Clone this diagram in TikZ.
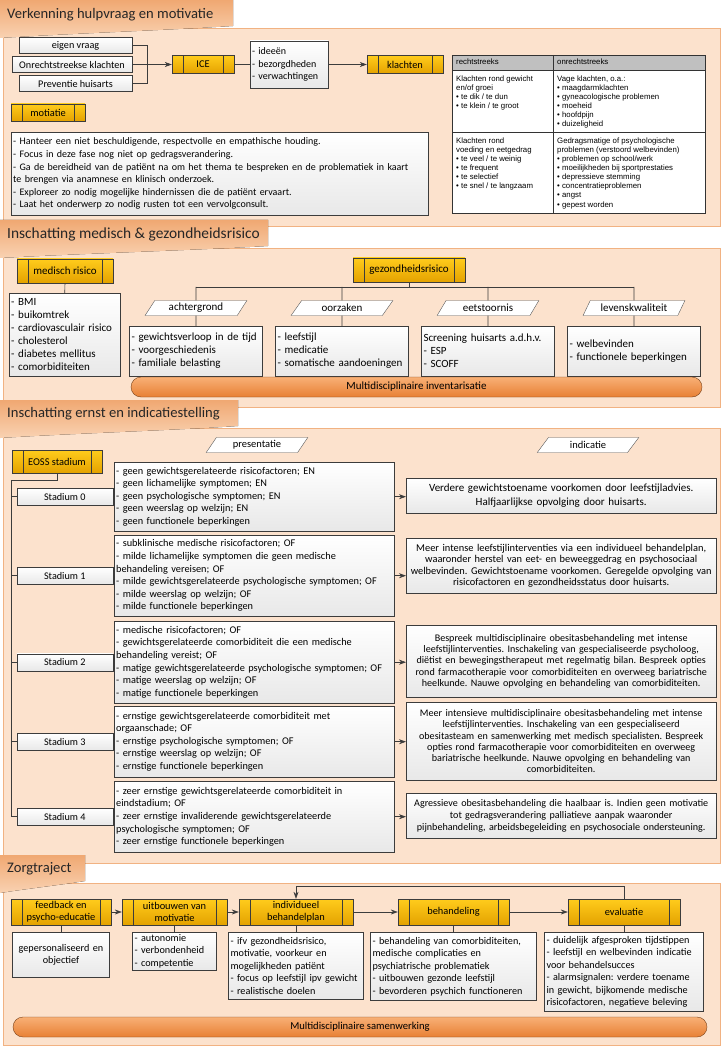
\documentclass[tikz,border=0pt]{standalone}
\usepackage{fontspec}
\setmainfont{Carlito}
\newfontfamily\tablefont{Liberation Sans}
\usetikzlibrary{arrows.meta, positioning, shapes.geometric, shapes.misc}

\definecolor{panelfill}{RGB}{252,226,205}
\definecolor{panelline}{RGB}{241,178,130}
\definecolor{tabtop}{RGB}{240,168,114}
\definecolor{tabbottom}{RGB}{249,210,178}
\definecolor{goldtop}{RGB}{255,204,28}
\definecolor{goldbottom}{RGB}{228,162,0}
\definecolor{edge}{RGB}{60,60,60}
\definecolor{bartop}{RGB}{248,176,118}
\definecolor{barbottom}{RGB}{232,128,52}
\definecolor{baredge}{RGB}{120,64,24}
\definecolor{tablehead}{RGB}{192,192,192}

\begin{document}
\frenchspacing
\begin{tikzpicture}[
    x=1pt, y=-1pt, % one unit per pixel, y grows downwards
    >={Stealth[length=7pt, width=5pt]}, % arrow tips of the connectors
    panel/.style={draw=panelline, fill=panelfill, line width=0.8pt}, % section background
    titletab/.style={top color=tabtop, bottom color=tabbottom}, % section title tab
    tabtitle/.style={anchor=west, inner sep=0pt, text=black!85, font=\fontsize{14.6}{17}\selectfont}, % section title
    proc/.style={draw=edge, top color=goldtop, bottom color=goldbottom, align=center, inner sep=1pt,
        font=\fontsize{10.4}{12}\selectfont,
        path picture={
            \draw[edge] ([xshift=11pt]path picture bounding box.north west) -- ([xshift=11pt]path picture bounding box.south west);
            \draw[edge] ([xshift=-11pt]path picture bounding box.north east) -- ([xshift=-11pt]path picture bounding box.south east);
        }}, % yellow boxes with side bars
    card/.style={draw=edge, top color=white, bottom color=black!9, inner sep=2pt, align=left,
        font=\fontsize{10}{12.6}\selectfont}, % white text boxes
    stage/.style={draw=edge, top color=white, bottom color=black!9, minimum width=96pt, minimum height=17pt,
        inner sep=1pt, font=\fontsize{10.2}{12}\selectfont}, % small white label boxes
    headtag/.style={trapezium, trapezium left angle=60, trapezium right angle=120, trapezium stretches=true,
        draw=black!65, fill=white, minimum width=102pt, minimum height=15pt, inner sep=1pt,
        font=\fontsize{10.5}{12}\selectfont}, % slanted column headers
    bar/.style={rounded rectangle, draw=baredge, top color=bartop, bottom color=barbottom, minimum height=20pt,
        inner sep=1pt, font=\fontsize{10.6}{12}\selectfont}, % multidisciplinary bars
    link/.style={draw=edge, line width=0.6pt}, % connectors
    cell/.style={anchor=north west, inner sep=0pt, align=left, font=\tablefont\fontsize{7.8}{9.1}\selectfont}, % table text
    advice/.style={card, anchor=north west, minimum width=310pt, text width=308pt, inner sep=1pt, align=center} % indication boxes
]
    \useasboundingbox (0,0) rectangle (727,1048);

    % Verkenning hulpvraag en motivatie
    \draw[panel] (3,28) rectangle (720,226);
    \fill[titletab] (0,0) -- (233,0) -- (233,26) .. controls (170,30) and (60,34) .. (0,38) -- cycle;
    \node[tabtitle] (title1) at (7,15) {Verkenning hulpvraag en motivatie};

    \node[stage, minimum width=113pt, minimum height=16pt] (eigen) at (75.5,45.5) {eigen vraag};
    \node[stage, minimum width=120pt, minimum height=16pt] (onrecht) at (72,64.5) {Onrechtstreekse klachten};
    \node[stage, minimum width=113pt, minimum height=16pt] (prev) at (75.5,83.5) {Preventie huisarts};
    \coordinate (join) at (147,64.5);
    \node[proc, minimum width=62pt, minimum height=18pt] (ice) at (203,64.5) {ICE};
    \node[card, minimum width=78pt, minimum height=47pt, text width=74pt] (icelist) at (289,64.5) {- ideeën\\- bezorgdheden\\- verwachtingen};
    \node[proc, minimum width=76pt, minimum height=18pt] (klachten) at (405,64.5) {klachten};
    \draw[link] (eigen.east) -| (join);
    \draw[link] (prev.east) -| (join);
    \draw[link, ->] (onrecht.east) -- (ice.west);
    \draw[link] (ice.east) -- (icelist.west);
    \draw[link, ->] (icelist.east) -- (klachten.west);

    \node[proc, minimum width=74pt, minimum height=17pt] (motiatie) at (48,112.5) {motiatie};
    \node[card, anchor=north west, minimum width=417pt, minimum height=83pt, text width=413pt] (houding) at (11,132)
        {- Hanteer een niet beschuldigende, respectvolle en empathische houding.\\- Focus in deze fase nog niet op gedragsverandering.\\- Ga de bereidheid van de patiënt na om het thema te bespreken en de problematiek in kaart\\te brengen via anamnese en klinisch onderzoek.\\- Exploreer zo nodig mogelijke hindernissen die de patiënt ervaart.\\- Laat het onderwerp zo nodig rusten tot een vervolgconsult.};

    % tabel rechtstreeks / onrechtstreeks
    \fill[white] (452,55) rectangle (705,213);
    \fill[tablehead] (452,55) rectangle (705,70);
    \draw[black!80, line width=0.6pt] (452,55) rectangle (705,213) (452,70) -- (705,70) (452,132) -- (705,132) (553,55) -- (553,213);
    \node[cell] (headleft) at (456,58.5) {rechtstreeks};
    \node[cell] (headright) at (557,58.5) {onrechtstreeks};
    \node[cell] (weightcell) at (456,75.5) {Klachten rond gewicht\\en/of groei\\• te dik / te dun\\• te klein / te groot};
    \node[cell] (vaguecell) at (557,75.5) {Vage klachten, o.a.:\\• maagdarmklachten\\• gyneacologische problemen\\• moeheid\\• hoofdpijn\\• duizeligheid};
    \node[cell] (foodcell) at (456,137.5) {Klachten rond\\voeding en eetgedrag\\• te veel / te weinig\\• te frequent\\• te selectief\\• te snel / te langzaam};
    \node[cell] (behavecell) at (557,137.5) {Gedragsmatige of psychologische\\problemen (verstoord welbevinden)\\• problemen op school/werk\\• moeilijkheden bij sportprestaties\\• depressieve stemming\\• concentratieproblemen\\• angst\\• gepest worden};

    % Inschatting medisch & gezondheidsrisico
    \draw[panel] (3,248) rectangle (720,407);
    \fill[titletab] (0,220) -- (268,220) -- (268,246) .. controls (200,250) and (70,254) .. (0,258) -- cycle;
    \node[tabtitle, font=\fontsize{15.4}{17}\selectfont] (title2) at (7,234) {Inschatting medisch \& gezondheidsrisico};

    \node[proc, minimum width=96pt, minimum height=24pt, font=\fontsize{11}{12}\selectfont] (medrisk) at (65,271) {medisch risico};
    \node[card, anchor=north west, minimum width=111pt, minimum height=83pt, text width=107pt, font=\fontsize{11}{13}\selectfont] (medlist) at (9,293)
        {- BMI\\- buikomtrek\\- cardiovasculair risico\\- cholesterol\\- diabetes mellitus\\- comorbiditeiten};
    \draw[link] (medrisk.south) -- (medlist.north);

    \node[proc, minimum width=112pt, minimum height=24pt, font=\fontsize{11}{12}\selectfont] (healthrisk) at (409,270) {gezondheidsrisico};
    \coordinate (fork) at (409,287);
    \node[headtag, font=\fontsize{11}{12}\selectfont] (bg) at (196,308) {achtergrond};
    \node[headtag, font=\fontsize{11}{12}\selectfont] (cause) at (342,308) {oorzaken};
    \node[headtag, font=\fontsize{11}{12}\selectfont] (eat) at (488,308) {eetstoornis};
    \node[headtag, font=\fontsize{11}{12}\selectfont] (life) at (634,308) {levenskwaliteit};
    \node[card, minimum width=133pt, minimum height=50pt, text width=129pt, font=\fontsize{11}{13}\selectfont] (bglist) at (196,351)
        {- gewichtsverloop in de tijd\\- voorgeschiedenis\\- familiale belasting};
    \node[card, minimum width=133pt, minimum height=50pt, text width=129pt, font=\fontsize{11}{13}\selectfont] (causelist) at (342,351)
        {- leefstijl\\- medicatie\\- somatische aandoeningen};
    \node[card, minimum width=133pt, minimum height=50pt, text width=129pt, font=\fontsize{11}{13}\selectfont] (eatlist) at (488,351)
        {Screening huisarts a.d.h.v.\\- ESP\\- SCOFF};
    \node[card, minimum width=133pt, minimum height=50pt, text width=129pt, font=\fontsize{11}{13}\selectfont] (lifelist) at (634,351)
        {- welbevinden\\- functionele beperkingen};
    \draw[link] (healthrisk.south) -- (fork);
    \draw[link] (bg.north |- fork) -- (life.north |- fork);
    \foreach \t/\b in {bg/bglist, cause/causelist, eat/eatlist, life/lifelist}
        \draw[link] (\t.north |- fork) -- (\t.north) (\t.south) -- (\b.north);
    \node[bar, minimum width=573pt, font=\fontsize{11}{12}\selectfont] (inventory) at (416.5,387) {Multidisciplinaire inventarisatie};

    % Inschatting ernst en indicatiestelling
    \draw[panel] (3,428) rectangle (720,863);
    \fill[titletab] (0,400) -- (238,400) -- (238,426) .. controls (180,430) and (60,434) .. (0,438) -- cycle;
    \node[tabtitle] (title3) at (7,414) {Inschatting ernst en indicatiestelling};
    \node[headtag] (presentatie) at (257,445) {presentatie};
    \node[headtag] (indicatie) at (588,445) {indicatie};
    \node[proc, minimum width=90pt, minimum height=23pt] (eoss) at (57,461.5) {EOSS stadium};

    \node[card, anchor=north west, minimum width=280pt, minimum height=69pt, text width=276pt, font=\fontsize{10.3}{12.6}\selectfont] (pres0) at (114,462)
        {- geen gewichtsgerelateerde risicofactoren; EN\\- geen lichamelijke symptomen; EN\\- geen psychologische symptomen; EN\\- geen weerslag op welzijn; EN\\- geen functionele beperkingen};
    \node[card, anchor=north west, minimum width=280pt, minimum height=81pt, text width=276pt, font=\fontsize{10.3}{12.6}\selectfont] (pres1) at (114,535)
        {- subklinische medische risicofactoren; OF\\- milde lichamelijke symptomen die geen medische\\behandeling vereisen; OF\\- milde gewichtsgerelateerde psychologische symptomen; OF\\- milde weerslag op welzijn; OF\\- milde functionele beperkingen};
    \node[card, anchor=north west, minimum width=280pt, minimum height=82pt, text width=276pt, font=\fontsize{10.3}{12.6}\selectfont] (pres2) at (114,621)
        {- medische risicofactoren; OF\\- gewichtsgerelateerde comorbiditeit die een medische\\behandeling vereist; OF\\- matige gewichtsgerelateerde psychologische symptomen; OF\\- matige weerslag op welzijn; OF\\- matige functionele beperkingen};
    \node[card, anchor=north west, minimum width=280pt, minimum height=71pt, text width=276pt, font=\fontsize{10.3}{12.6}\selectfont] (pres3) at (114,706)
        {- ernstige gewichtsgerelateerde comorbiditeit met\\orgaanschade; OF\\- ernstige psychologische symptomen; OF\\- ernstige weerslag op welzijn; OF\\- ernstige functionele beperkingen};
    \node[card, anchor=north west, minimum width=280pt, minimum height=71pt, text width=276pt, font=\fontsize{10.3}{12.6}\selectfont] (pres4) at (114,781)
        {- zeer ernstige gewichtsgerelateerde comorbiditeit in\\eindstadium; OF\\- zeer ernstige invaliderende gewichtsgerelateerde\\psychologische symptomen; OF\\- zeer ernstige functionele beperkingen};

    \foreach \i in {0,...,4}
        \node[stage, left=1pt of pres\i] (stage\i) {Stadium \i};

    \node[advice, minimum height=35pt, font=\fontsize{11}{13.5}\selectfont] (ind0) at (406,478)
        {Verdere gewichtstoename voorkomen door leefstijladvies.\\Halfjaarlijkse opvolging door huisarts.};
    \node[advice, minimum height=55pt, font=\fontsize{10.4}{11.2}\selectfont] (ind1) at (406,538)
        {Meer intense leefstijlinterventies via een individueel behandelplan,\\waaronder herstel van eet- en beweeggedrag en psychosociaal\\welbevinden. Gewichtstoename voorkomen. Geregelde opvolging van\\risicofactoren en gezondheidsstatus door huisarts.};
    \node[advice, minimum height=72pt, font=\fontsize{10.1}{11.2}\selectfont] (ind2) at (406,625)
        {Bespreek multidisciplinaire obesitasbehandeling met intense\\leefstijlinterventies. Inschakeling van gespecialiseerde psycholoog,\\diëtist en bewegingstherapeut met regelmatig bilan. Bespreek opties\\rond farmacotherapie voor comorbiditeiten en overweeg bariatrische\\heelkunde. Nauwe opvolging en behandeling van comorbiditeiten.};
    \node[advice, minimum height=78pt, font=\fontsize{10.1}{11.2}\selectfont] (ind3) at (406,702)
        {Meer intensieve multidisciplinaire obesitasbehandeling met intense\\leefstijlinterventies. Inschakeling van een gespecialiseerd\\obesitasteam en samenwerking met medisch specialisten. Bespreek\\opties rond farmacotherapie voor comorbiditeiten en overweeg\\bariatrische heelkunde. Nauwe opvolging en behandeling van\\comorbiditeiten.};
    \node[advice, minimum height=45pt, font=\fontsize{10.1}{12}\selectfont] (ind4) at (406,793)
        {Agressieve obesitasbehandeling die haalbaar is. Indien geen motivatie\\tot gedragsverandering palliatieve aanpak waaronder\\pijnbehandeling, arbeidsbegeleiding en psychosociale ondersteuning.};

    \coordinate (spine) at (11,480);
    \draw[link] (eoss.south) |- (spine) |- (stage4.west);
    \foreach \i in {0,...,3}
        \draw[link] (spine |- stage\i.west) -- (stage\i.west);
    \foreach \i in {0,...,4} {
        \draw[link] (stage\i.east) -- (pres\i.west);
        \draw[link, ->] (pres\i.east) -- (ind\i.west |- pres\i.east);
    }

    % Zorgtraject
    \draw[panel] (3,883) rectangle (720,1045);
    \fill[titletab] (0,855) -- (85,855) -- (85,881) .. controls (60,885) and (25,889) .. (0,893) -- cycle;
    \node[tabtitle] (title4) at (7,869) {Zorgtraject};

    \node[proc, minimum width=100pt, minimum height=26pt] (feedback) at (61,912) {feedback en\\psycho-educatie};
    \node[proc, minimum width=105pt, minimum height=26pt] (motivation) at (174.5,912) {uitbouwen van\\motivatie};
    \node[proc, minimum width=114pt, minimum height=26pt] (plan) at (296,912) {individueel\\behandelplan};
    \node[proc, minimum width=111pt, minimum height=26pt] (treatment) at (453.5,912) {behandeling};
    \node[proc, minimum width=112pt, minimum height=26pt] (evaluation) at (624,912) {evaluatie};

    \node[card, below=7pt of feedback, minimum width=97pt, minimum height=45pt, text width=93pt, align=center, font=\fontsize{10.2}{12.5}\selectfont] (feedbackinfo)
        {gepersonaliseerd en\\objectief};
    \node[card, below=7pt of motivation, minimum width=84pt, minimum height=36pt, text width=80pt, font=\fontsize{10.2}{12.5}\selectfont] (motivationinfo)
        {- autonomie\\- verbondenheid\\- competentie};
    \node[card, below=7pt of plan, minimum width=135pt, minimum height=67pt, text width=131pt, font=\fontsize{10.2}{12.5}\selectfont] (planinfo)
        {- ifv gezondheidsrisico,\\motivatie, voorkeur en\\mogelijkheden patiënt\\- focus op leefstijl ipv gewicht\\- realistische doelen};
    \node[card, below=7pt of treatment, minimum width=166pt, minimum height=68pt, text width=162pt, font=\fontsize{10.2}{12.5}\selectfont] (treatmentinfo)
        {- behandeling van comorbiditeiten,\\medische complicaties en\\psychiatrische problematiek\\- uitbouwen gezonde leefstijl\\- bevorderen psychich functioneren};
    \node[card, below=7pt of evaluation, minimum width=159pt, minimum height=79pt, text width=155pt, font=\fontsize{10.2}{12.5}\selectfont] (evaluationinfo)
        {- duidelijk afgesproken tijdstippen\\- leefstijl en welbevinden indicatie\\voor behandelsucces\\- alarmsignalen: verdere toename\\in gewicht, bijkomende medische\\risicofactoren, negatieve beleving};

    \foreach \s in {feedback, motivation, plan, treatment, evaluation}
        \draw[link] (\s.south) -- (\s info.north);
    \draw[link, ->] (feedback.east) -- (motivation.west);
    \draw[link, ->] (motivation.east) -- (plan.west);
    \draw[link, ->] (plan.east) -- (treatment.west);
    \draw[link, ->] (treatment.east) -- (evaluation.west);
    \draw[link, ->] (evaluation.north) -- ++(0,-13) -| (plan.north);

    \node[bar, minimum width=696pt] (teamwork) at (360,1027) {Multidisciplinaire samenwerking};

\end{tikzpicture}
\end{document}
